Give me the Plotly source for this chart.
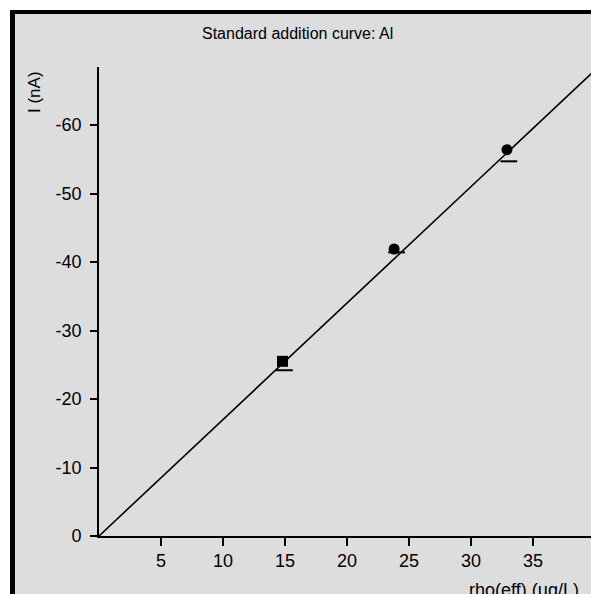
import plotly.graph_objects as go

# Data
rho_points = [14.8, 23.8, 32.9]          # rho(eff) in ug/L
current_points = [-25.5, -41.9, -56.4]   # I in nA
point_symbols = ["square", "circle", "circle"]
rho_ref = [14.95, 24.0, 33.05]
current_ref = [-24.2, -41.4, -54.7]
fit_rho = [0.0, 40.0]
fit_current = [0.0, -68.0]
x_ticks = [5, 10, 15, 20, 25, 30, 35]
y_ticks = [0, -10, -20, -30, -40, -50, -60]

W, H = 591, 594
L, R, T, B = 99, 0, 67, 58
pw, ph = W - L - R, H - T - B

def px_x(p):
    return (p - L) / pw

def px_y(p):
    return (H - B - p) / ph

fig = go.Figure()

fig.add_trace(go.Scatter(x=fit_rho, y=fit_current, mode="lines",
                         line=dict(color="black", width=1.6),
                         hoverinfo="skip", showlegend=False))
fig.add_trace(go.Scatter(x=rho_ref, y=current_ref, mode="markers",
                         marker=dict(symbol="line-ew", size=12,
                                     line=dict(color="black", width=2)),
                         showlegend=False, cliponaxis=False))
fig.add_trace(go.Scatter(x=rho_points, y=current_points, mode="markers",
                         marker=dict(symbol=point_symbols, size=11, color="black",
                                     line=dict(width=0)),
                         showlegend=False))

# gray panel and its thick top/left border
fig.add_shape(type="rect", xref="paper", yref="paper",
              x0=px_x(15), x1=px_x(W), y0=px_y(H), y1=px_y(14),
              fillcolor="#dddddd", line=dict(width=0), layer="below")
fig.add_shape(type="rect", xref="paper", yref="paper",
              x0=px_x(10), x1=px_x(W), y0=px_y(14), y1=px_y(10),
              fillcolor="black", line=dict(width=0), layer="below")
fig.add_shape(type="rect", xref="paper", yref="paper",
              x0=px_x(10), x1=px_x(15), y0=px_y(H), y1=px_y(10),
              fillcolor="black", line=dict(width=0), layer="below")

fig.add_annotation(text="Standard addition curve: Al", xref="paper", yref="paper",
                   x=px_x(297), y=px_y(34), xanchor="center", yanchor="middle",
                   showarrow=False, font=dict(size=16, color="black"))
fig.add_annotation(text="I (nA)", xref="paper", yref="paper",
                   x=px_x(34), y=px_y(92), xanchor="center", yanchor="middle",
                   textangle=-90, showarrow=False, font=dict(size=17, color="black"))
fig.add_annotation(text="rho(eff) (µg/L)", xref="paper", yref="paper",
                   x=px_x(467), y=px_y(578), xanchor="left", yanchor="top",
                   showarrow=False, font=dict(size=18, color="black"))

fig.update_layout(
    width=W, height=H,
    margin=dict(l=L, r=R, t=T, b=B),
    paper_bgcolor="white",
    plot_bgcolor="rgba(0,0,0,0)",
    font=dict(family="Liberation Sans, Arial, sans-serif", color="black"),
    xaxis=dict(range=[0, pw / 12.4], showgrid=False, zeroline=False,
               showline=True, linecolor="black", linewidth=1.6,
               ticks="outside", ticklen=8, tickwidth=1.6, tickcolor="black",
               tickvals=x_ticks, ticktext=[str(v) for v in x_ticks],
               tickfont=dict(size=18)),
    yaxis=dict(range=[0, -ph / 6.85], showgrid=False, zeroline=False,
               showline=True, linecolor="black", linewidth=1.6,
               ticks="outside", ticklen=7, tickwidth=1.6, tickcolor="black",
               tickvals=y_ticks, ticktext=[str(v) for v in y_ticks],
               tickfont=dict(size=18), ticklabelstandoff=5),
)

fig.write_html("out.html",
               config={"displayModeBar": False},
               post_script="document.body.style.margin='0';document.body.style.overflow='hidden';")
